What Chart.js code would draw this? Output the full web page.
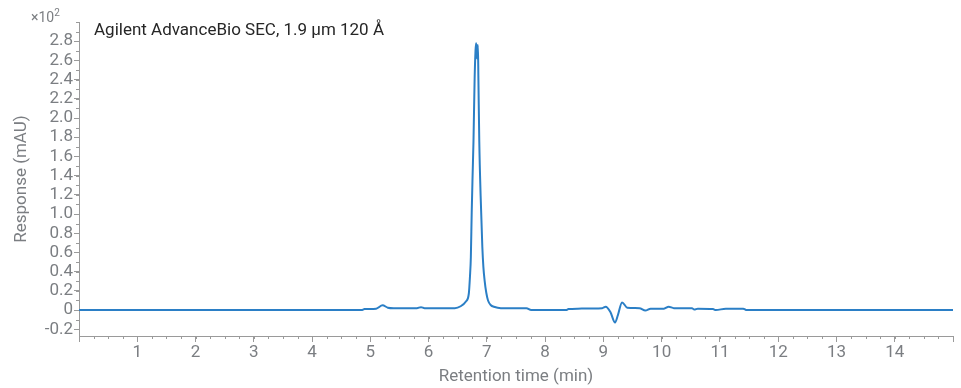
<!DOCTYPE html>
<html>
<head>
<meta charset="utf-8">
<script src="https://cdn.jsdelivr.net/npm/chart.js@4"></script>
<style>
  body { margin: 0; background: #fff; }
  #wrap { position: relative; width: 961px; height: 388px; }
  .note { position: absolute; font-family: Roboto, sans-serif; white-space: nowrap; }
  #title { left: 94px; top: 19px; font-size: 17px; color: #262626; }
  #mult { left: 31px; top: 7px; font-size: 14px; color: #7b7e82; }
  #mult sup { font-size: 10px; }
</style>
</head>
<body>
<div id="wrap">
  <canvas id="chart" width="961" height="388"></canvas>
  <div class="note" id="mult">×10<sup>2</sup></div>
  <div class="note" id="title">Agilent AdvanceBio SEC, 1.9 µm 120 Å</div>
</div>
<script>
// retention time (min) and response (x10^2 mAU)
const times = [0, 4.85, 4.90, 5.10, 5.21, 5.30, 5.40, 5.80, 5.87, 5.93, 6.45, 6.55, 6.64, 6.69,
  6.71, 6.725, 6.74, 6.755, 6.77, 6.79, 6.805, 6.815, 6.822, 6.83, 6.838, 6.846, 6.855, 6.87,
  6.893, 6.922, 6.94, 6.961, 6.99, 7.02, 7.07, 7.12, 7.24, 7.68, 7.76, 8.36, 8.40, 8.56, 8.98,
  9.04, 9.12, 9.20, 9.25, 9.32, 9.41, 9.62, 9.72, 9.81, 10.04, 10.12, 10.21, 10.52, 10.56,
  10.62, 10.88, 10.93, 11.10, 11.40, 11.46, 15];
const response = [0, 0, 0.01, 0.015, 0.05, 0.025, 0.02, 0.02, 0.03, 0.02, 0.02, 0.04, 0.09, 0.17,
  0.35, 0.55, 1.02, 1.40, 1.75, 2.41, 2.70, 2.78, 2.70, 2.62, 2.72, 2.76, 2.40, 1.75,
  1.19, 0.66, 0.45, 0.31, 0.18, 0.10, 0.05, 0.035, 0.02, 0.02, 0, 0, 0.01, 0.015, 0.02,
  0.035, -0.02, -0.13, -0.05, 0.08, 0.025, 0.02, -0.005, 0.015, 0.015, 0.035, 0.02, 0.02, 0.005,
  0.015, 0.01, 0, 0.015, 0.015, 0, 0];

const xTicks = [0, 1, 2, 3, 4, 5, 6, 7, 8, 9, 10, 11, 12, 13, 14, 15];
const xLabelled = [1, 2, 3, 4, 5, 6, 7, 8, 9, 10, 11, 12, 13, 14];
const yTicks = [-0.2, 0, 0.2, 0.4, 0.6, 0.8, 1.0, 1.2, 1.4, 1.6, 1.8, 2.0, 2.2, 2.4, 2.6, 2.8];
const xMinorStep = 0.25;
const yMinorStep = 0.1;

const grey = '#7b7e82';
const axisGrey = '#9a9a9a';

const minorTicks = {
  id: 'minorTicks',
  afterDraw(chart) {
    const ctx = chart.ctx;
    const x = chart.scales.x, y = chart.scales.y;
    ctx.save();
    ctx.strokeStyle = axisGrey;
    ctx.lineWidth = 1;
    ctx.beginPath();
    for (let v = x.min; v <= x.max + 1e-9; v += xMinorStep) {
      const px = Math.round(x.getPixelForValue(v)) + 0.5;
      ctx.moveTo(px, y.bottom);
      ctx.lineTo(px, y.bottom + 3);
    }
    for (let v = -0.2; v <= y.max + 1e-9; v += yMinorStep) {
      const py = Math.round(y.getPixelForValue(v)) + 0.5;
      ctx.moveTo(x.left, py);
      ctx.lineTo(x.left - 3, py);
    }
    ctx.stroke();
    ctx.restore();
  }
};

new Chart(document.getElementById('chart'), {
  type: 'line',
  data: {
    datasets: [{
      data: times.map((t, i) => ({ x: t, y: response[i] })),
      borderColor: '#2b7fc6',
      borderWidth: 2,
      pointRadius: 0,
      cubicInterpolationMode: 'monotone',
      fill: false
    }]
  },
  options: {
    responsive: false,
    animation: false,
    layout: { padding: { top: 22, right: 8, left: 0, bottom: 0 } },
    plugins: { legend: { display: false }, tooltip: { enabled: false } },
    scales: {
      x: {
        type: 'linear',
        min: 0, max: 15,
        afterBuildTicks: s => { s.ticks = xTicks.map(v => ({ value: v })); },
        afterFit: s => { s.height = 52; },
        grid: { drawOnChartArea: false, tickLength: 6, color: axisGrey },
        border: { color: axisGrey },
        ticks: {
          color: grey, padding: 1, maxRotation: 0, autoSkip: false,
          font: { family: 'Roboto', size: 17 },
          callback: v => xLabelled.includes(v) ? String(v) : ''
        },
        title: {
          display: true, text: 'Retention time (min)', color: grey,
          font: { family: 'Roboto', size: 17 }, padding: { top: 0, bottom: 1 }
        }
      },
      y: {
        type: 'linear',
        min: -0.27, max: 3.0,
        afterBuildTicks: s => { s.ticks = yTicks.map(v => ({ value: v })); },
        afterFit: s => { s.width = 79; },
        grid: { drawOnChartArea: false, tickLength: 5, color: axisGrey },
        border: { color: axisGrey },
        ticks: {
          color: grey, padding: 1, autoSkip: false,
          font: { family: 'Roboto', size: 17 },
          callback: v => v === 0 ? '0' : v.toFixed(1)
        },
        title: {
          display: true, text: 'Response (mAU)', color: grey,
          font: { family: 'Roboto', size: 17 }, padding: { top: 12, bottom: 0 }
        }
      }
    }
  },
  plugins: [minorTicks]
});
</script>
</body>
</html>
